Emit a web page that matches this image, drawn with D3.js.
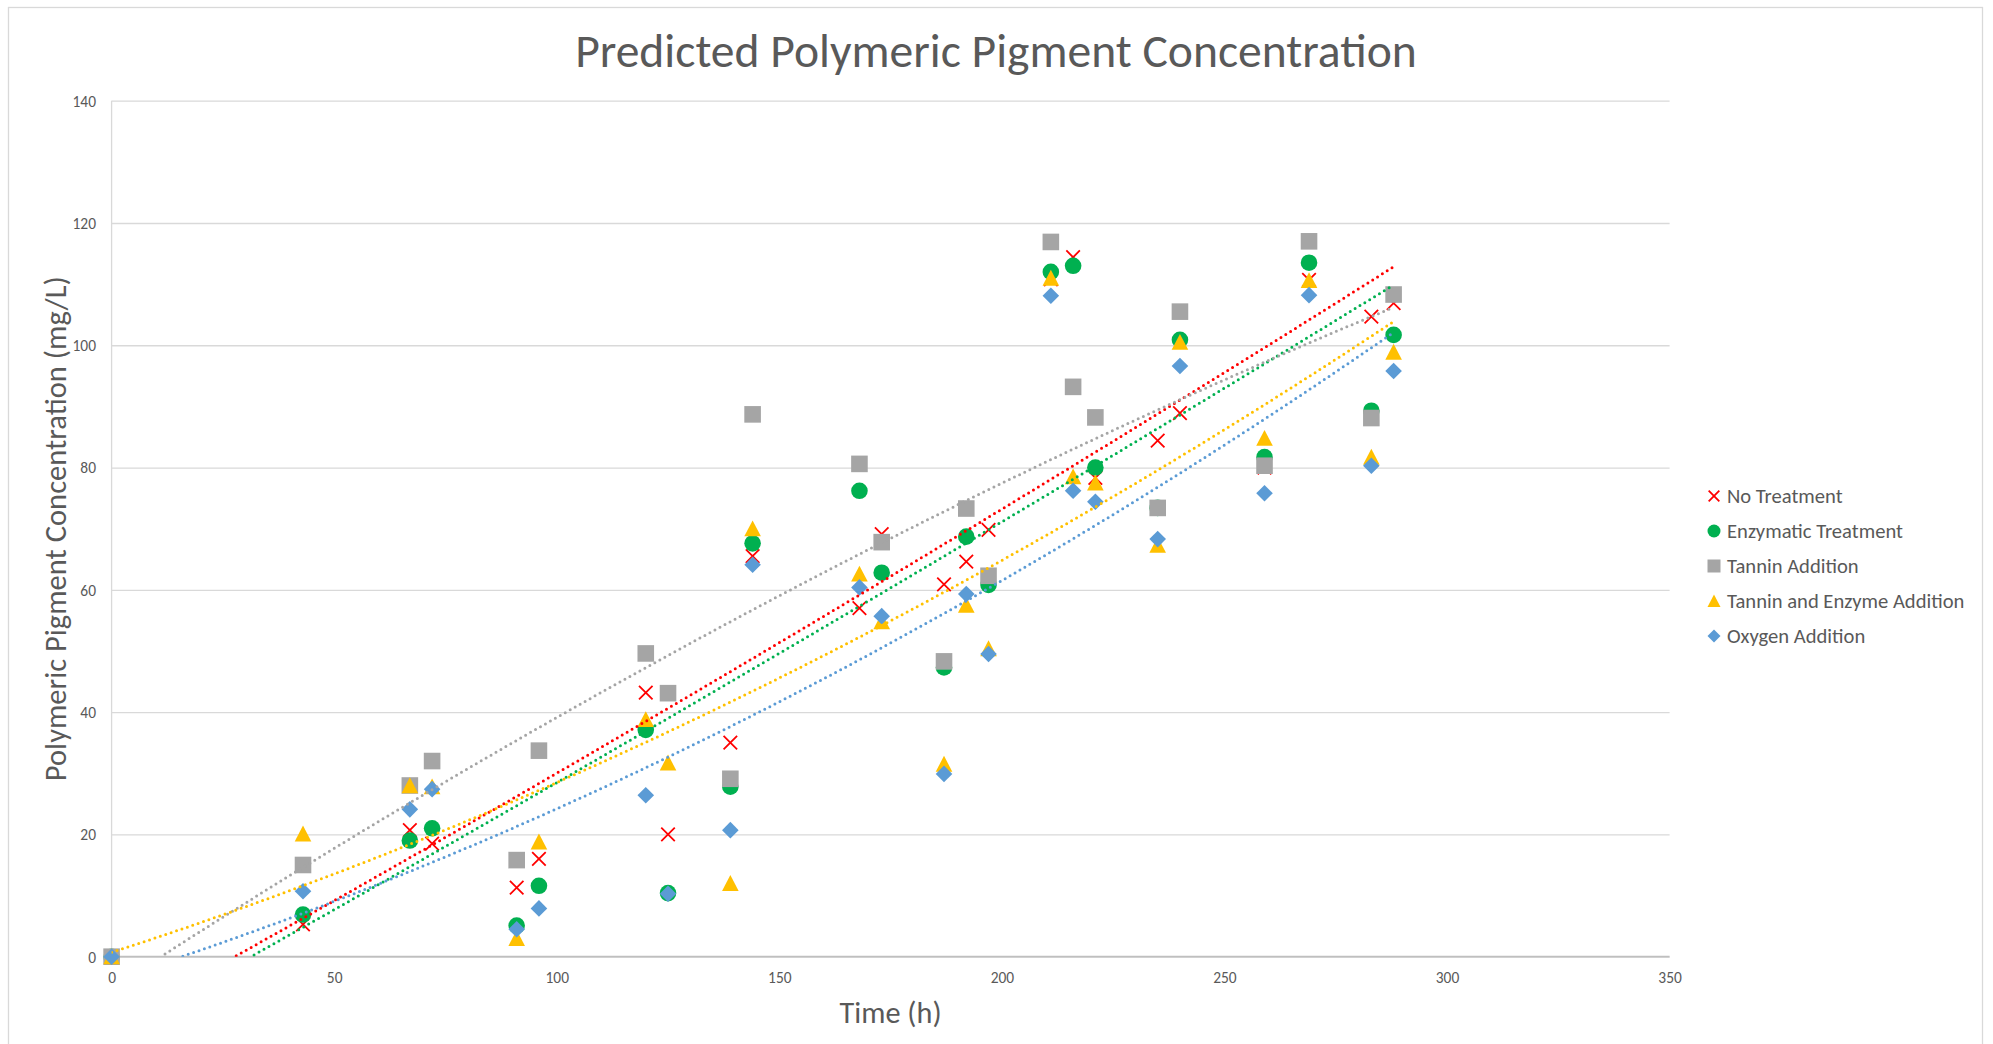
<!DOCTYPE html>
<html>
<head>
<meta charset="utf-8">
<script src="https://cdn.jsdelivr.net/npm/d3@7"></script>
<style>
  html, body { margin: 0; padding: 0; background: #ffffff; }
  svg { display: block; }
  text { font-family: Carlito, Lato, "Open Sans", sans-serif; fill: #595959; }
</style>
</head>
<body>
<svg id="chart" width="1993" height="1044"></svg>
<script>
// ---------------- DATA ----------------
const timeHours = [0, 43, 67, 72, 91, 96, 120, 125, 139, 144, 168, 173, 187, 192, 197, 211, 216, 221, 235, 240, 259, 269, 283, 288];

const noTreatment = [0, 5.3, 20.7, 18.5, 11.3, 16.0, 43.2, 20.0, 35.0, 65.5, 57.0, 69.1, 60.9, 64.6, 69.8, 110.8, 114.4, 78.3, 84.4, 88.9, 80.0, 110.7, 104.7, 106.9];
const enzymaticTreatment = [0, 6.9, 19.0, 21.0, 5.1, 11.6, 37.1, 10.4, 27.8, 67.6, 76.2, 62.8, 47.3, 68.7, 60.8, 112.0, 113.0, 80.0, 73.4, 100.9, 81.7, 113.5, 89.3, 101.7];
const tanninAddition = [0, 15.0, 28.0, 32.0, 15.8, 33.7, 49.6, 43.1, 29.1, 88.7, 80.6, 67.8, 48.3, 73.3, 62.3, 116.9, 93.2, 88.2, 73.4, 105.5, 80.3, 117.0, 88.1, 108.3];
const tanninEnzymeAddition = [0, 20.1, 28.0, 27.8, 3.0, 18.8, 38.8, 31.7, 12.0, 70.0, 62.6, 54.8, 31.5, 57.5, 50.4, 111.0, 78.5, 77.5, 67.3, 100.5, 84.8, 110.6, 81.7, 98.9];
const oxygenAddition = [0, 10.7, 24.1, 27.4, 4.5, 7.9, 26.4, 10.3, 20.7, 64.1, 60.4, 55.7, 29.9, 59.3, 49.5, 108.1, 76.2, 74.4, 68.3, 96.6, 75.8, 108.2, 80.3, 95.8];

const seriesNames = ["No Treatment", "Enzymatic Treatment", "Tannin Addition", "Tannin and Enzyme Addition", "Oxygen Addition"];
const xTicks = [0, 50, 100, 150, 200, 250, 300, 350];
const yTicks = [0, 20, 40, 60, 80, 100, 120, 140];
const chartTitle = "Predicted Polymeric Pigment Concentration";
const xTitle = "Time (h)";
const yTitle = "Polymeric Pigment Concentration (mg/L)";

// ---------------- STYLE ----------------
const seriesColors = ["#FF0000", "#00B050", "#A5A5A5", "#FFC000", "#5B9BD5"];
const seriesShapes = ["x", "circle", "square", "triangle", "diamond"];
const seriesValues = [noTreatment, enzymaticTreatment, tanninAddition, tanninEnzymeAddition, oxygenAddition];

const W = 1993, H = 1044;
const plot = { left: 111.6, right: 1669.6, top: 100.7, bottom: 956.7 };

const svg = d3.select("#chart");
svg.append("rect").attr("x", 0).attr("y", 0).attr("width", W).attr("height", H).attr("fill", "#fff");
svg.append("rect").attr("x", 8.5).attr("y", 7.5).attr("width", 1974).attr("height", 1045)
  .attr("fill", "none").attr("stroke", "#D9D9D9").attr("stroke-width", 1.3);

const x = d3.scaleLinear().domain([0, 350]).range([plot.left, plot.right]);
const y = d3.scaleLinear().domain([0, 140]).range([plot.bottom, plot.top]);

function fitWidth(sel, target) {
  const n = sel.node();
  const cur = n.getComputedTextLength();
  const fs = parseFloat(sel.attr("font-size"));
  const nf = fs * target / cur;
  sel.attr("font-size", nf);
  return nf;
}

// gridlines
const gy = d3.axisLeft(y).tickValues(yTicks).tickSize(-(plot.right - plot.left)).tickFormat("");
const gridG = svg.append("g").attr("transform", `translate(${plot.left},0)`).call(gy);
gridG.select(".domain").remove();
gridG.selectAll(".tick line").attr("stroke", "#D9D9D9").attr("stroke-width", 1.3);

// left axis line
svg.append("line").attr("x1", plot.left).attr("x2", plot.left).attr("y1", plot.top).attr("y2", plot.bottom)
  .attr("stroke", "#D9D9D9").attr("stroke-width", 1.3);
// bottom axis line
svg.append("line").attr("x1", plot.left).attr("x2", plot.right).attr("y1", plot.bottom).attr("y2", plot.bottom)
  .attr("stroke", "#BFBFBF").attr("stroke-width", 1.8);

// y tick labels
const yAxis = d3.axisLeft(y).tickValues(yTicks).tickSize(0).tickPadding(0).tickFormat(d3.format("d"));
const yAxG = svg.append("g").attr("transform", `translate(96,0)`).call(yAxis);
yAxG.select(".domain").remove();
yAxG.selectAll("text").attr("font-size", 15).attr("fill", "#595959").attr("dy", "0.35em")
  .attr("font-family", "Carlito, Lato, 'Open Sans', sans-serif");
// fit tick font size from "140" width (~23.5px)
const t140 = yAxG.selectAll("text").filter(d => d === 140);
const tickFs = fitWidth(t140, 23.5);
yAxG.selectAll("text").attr("font-size", tickFs);

// x tick labels
const xAxis = d3.axisBottom(x).tickValues(xTicks).tickSize(0).tickPadding(0).tickFormat(d3.format("d"));
const xAxG = svg.append("g").attr("transform", `translate(0,${plot.bottom})`).call(xAxis);
xAxG.select(".domain").remove();
xAxG.selectAll("text").attr("font-size", tickFs).attr("fill", "#595959").attr("dy", null).attr("y", 26)
  .attr("font-family", "Carlito, Lato, 'Open Sans', sans-serif");

// title
const title = svg.append("text").attr("x", 996).attr("y", 66.7).attr("text-anchor", "middle")
  .attr("font-size", 44).attr("font-weight", 300).attr("fill", "#595959").text(chartTitle);
fitWidth(title, 842);

// axis titles
const xt = svg.append("text").attr("x", (plot.left + plot.right) / 2).attr("y", 1022.5)
  .attr("text-anchor", "middle").attr("font-size", 30).text(xTitle);
fitWidth(xt, 102);
const yt = svg.append("text")
  .attr("transform", `translate(66,${(plot.top + plot.bottom) / 2}) rotate(-90)`)
  .attr("text-anchor", "middle").attr("font-size", 30).text(yTitle);
fitWidth(yt, 505);

// ---------------- MARKERS ----------------
function markerPath(shape, s) {
  const p = d3.path();
  const h = s / 2;
  if (shape === "circle") { p.arc(0, 0, h, 0, 2 * Math.PI); }
  else if (shape === "square") { p.rect(-h, -h, s, s); }
  else if (shape === "triangle") { p.moveTo(0, -h); p.lineTo(h, h * 0.92); p.lineTo(-h, h * 0.92); p.closePath(); }
  else if (shape === "diamond") { p.moveTo(0, -h); p.lineTo(h, 0); p.lineTo(0, h); p.lineTo(-h, 0); p.closePath(); }
  else if (shape === "x") { const a = h * 0.82; p.moveTo(-a, -a); p.lineTo(a, a); p.moveTo(a, -a); p.lineTo(-a, a); }
  return p.toString();
}
function drawMarker(g, shape, color, s) {
  const path = g.append("path").attr("d", markerPath(shape, s));
  if (shape === "x") path.attr("fill", "none").attr("stroke", color).attr("stroke-width", 1.8);
  else path.attr("fill", color);
}

const markerLayer = svg.append("g");
seriesValues.forEach((vals, si) => {
  const g = markerLayer.append("g");
  vals.forEach((v, i) => {
    const mg = g.append("g").attr("transform", `translate(${x(timeHours[i])},${y(v)})`);
    drawMarker(mg, seriesShapes[si], seriesColors[si], si === 0 ? 16.5 : 16.6);
  });
});

// ---------------- TRENDLINES (2nd order polynomial least squares) ----------------
function quadFit(xs, ys) {
  let n = xs.length, s1 = 0, s2 = 0, s3 = 0, s4 = 0, t0 = 0, t1 = 0, t2 = 0;
  for (let i = 0; i < n; i++) {
    const a = xs[i], b = ys[i];
    s1 += a; s2 += a * a; s3 += a * a * a; s4 += a * a * a * a;
    t0 += b; t1 += a * b; t2 += a * a * b;
  }
  const M = [[n, s1, s2, t0], [s1, s2, s3, t1], [s2, s3, s4, t2]];
  for (let c = 0; c < 3; c++) {
    let piv = c;
    for (let r = c + 1; r < 3; r++) if (Math.abs(M[r][c]) > Math.abs(M[piv][c])) piv = r;
    [M[c], M[piv]] = [M[piv], M[c]];
    for (let r = 0; r < 3; r++) {
      if (r === c) continue;
      const f = M[r][c] / M[c][c];
      for (let k = c; k < 4; k++) M[r][k] -= f * M[c][k];
    }
  }
  return [M[0][3] / M[0][0], M[1][3] / M[1][1], M[2][3] / M[2][2]];
}

svg.append("clipPath").attr("id", "plotClip").append("rect")
  .attr("x", plot.left).attr("y", plot.top).attr("width", plot.right - plot.left).attr("height", plot.bottom - plot.top);

const trendLayer = svg.append("g").attr("clip-path", "url(#plotClip)");
const xMin = d3.min(timeHours), xMax = d3.max(timeHours);
const sampleXs = d3.range(xMin, xMax + 0.001, 1);
seriesValues.forEach((vals, si) => {
  const [c0, c1, c2] = quadFit(timeHours, vals);
  const pts = sampleXs.map(t => [t, c0 + c1 * t + c2 * t * t]).filter(p => p[1] >= 0);
  const line = d3.line().x(d => x(d[0])).y(d => y(d[1]));
  trendLayer.append("path").attr("d", line(pts)).attr("fill", "none")
    .attr("stroke", seriesColors[si]).attr("stroke-width", 3)
    .attr("stroke-linecap", "round").attr("stroke-dasharray", "0 5.7");
});

// ---------------- LEGEND ----------------
const legend = svg.append("g");
let legFs = 20;
seriesNames.forEach((name, i) => {
  const cy = 496 + i * 35;
  const mg = legend.append("g").attr("transform", `translate(1714,${cy})`);
  drawMarker(mg, seriesShapes[i], seriesColors[i], 13);
  legend.append("text").attr("class", "legtext").attr("x", 1727).attr("y", cy + 6.5)
    .attr("font-size", legFs).text(name);
});
const firstLeg = legend.select(".legtext");
legFs = fitWidth(firstLeg, 115.7);
legend.selectAll(".legtext").attr("font-size", legFs);
</script>
</body>
</html>
